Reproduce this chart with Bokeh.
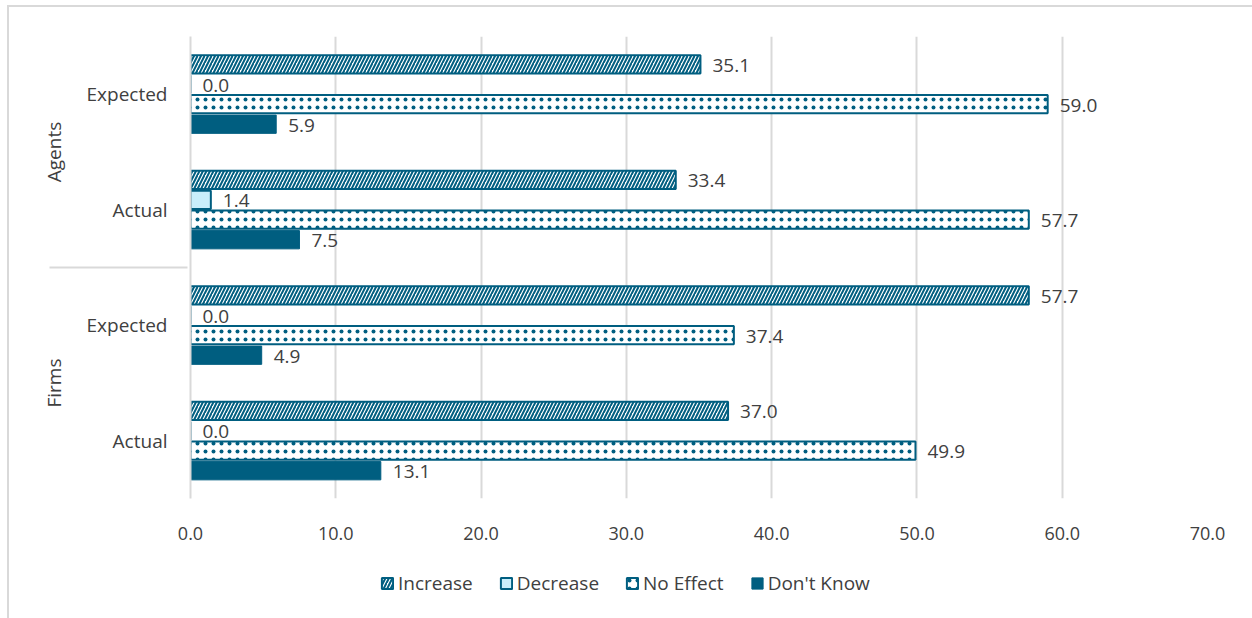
from bokeh.plotting import figure
from bokeh.layouts import column
from bokeh.models import (ColumnDataSource, FactorRange, Range1d, FixedTicker,
                          NumeralTickFormatter, Legend, LegendItem)
from bokeh.transform import dodge
from bokeh.core.properties import value
from bokeh.embed import file_html
from bokeh.resources import INLINE

# Respondent groups and the period each bar set refers to (top to bottom)
groups = ["Agents", "Agents", "Firms", "Firms"]
periods = ["Expected", "Actual", "Expected", "Actual"]

# Share of responses (%) per answer
increase = [35.1, 33.4, 57.7, 37.0]
decrease = [0.0, 1.4, 0.0, 0.0]
no_effect = [59.0, 57.7, 37.4, 49.9]
dont_know = [5.9, 7.5, 4.9, 13.1]

series_names = ["Increase", "Decrease", "No Effect", "Don't Know"]
x_ticks = [0, 10, 20, 30, 40, 50, 60, 70]

TEAL = "#005E80"
LIGHT = "#C9EEFB"
GRID = "#D9D9D9"
TEXT = "#404040"
FONT = "Open Sans"

factors = list(zip(groups, periods))

p = figure(
    width=1243, height=553,
    y_range=FactorRange(*reversed(factors), range_padding=0,
                        factor_padding=0, group_padding=0, subgroup_padding=0),
    x_range=Range1d(0, 70),
    output_backend="svg", toolbar_location=None,
    min_border_left=181, min_border_right=45,
    min_border_top=29, min_border_bottom=62,
)
p.outline_line_color = None
p.background_fill_color = "white"
p.border_fill_color = "white"

# bar geometry (in category units)
slot = 0.173
bar_h = 0.158

styles = [
    dict(fill_color="white", hatch_pattern="right_diagonal_line", hatch_color=TEAL,
         hatch_weight=2, hatch_scale=7, line_color=TEAL, line_width=2),
    dict(fill_color=LIGHT, line_color=TEAL, line_width=2),
    dict(fill_color="white", hatch_pattern="dot", hatch_color=TEAL,
         hatch_weight=1.5, hatch_scale=8, line_color=TEAL, line_width=2),
    dict(fill_color=TEAL, line_color=TEAL, line_width=1),
]

all_values = [increase, decrease, no_effect, dont_know]
for i, vals in enumerate(all_values):
    src = ColumnDataSource(dict(
        y=factors, x=vals, label=[f"{v:.1f}" for v in vals]))
    off = (1.5 - i) * slot
    p.hbar(y=dodge("y", off, range=p.y_range), left=0, right="x",
           height=bar_h, source=src, **styles[i])
    p.text(x="x", y=dodge("y", off, range=p.y_range), text="label", source=src,
           x_offset=12, y_offset=1, text_baseline="middle", text_align="left",
           text_font=value(FONT), text_font_size="19px", text_color=TEXT)

# x axis
p.xaxis.ticker = FixedTicker(ticks=x_ticks)
p.xaxis.formatter = NumeralTickFormatter(format="0.0")
p.xaxis.axis_line_color = None
p.xaxis.major_tick_line_color = None
p.xaxis.minor_tick_line_color = None
p.xaxis.major_label_standoff = 22
p.xaxis.major_label_text_font = FONT
p.xaxis.major_label_text_font_size = "18px"
p.xaxis.major_label_text_color = TEXT

p.xgrid.grid_line_color = GRID
p.xgrid.grid_line_width = 2
p.ygrid.grid_line_color = None

# y axis (two-level categories)
p.yaxis.axis_line_color = GRID
p.yaxis.axis_line_width = 2
p.yaxis.major_tick_line_color = None
p.yaxis.minor_tick_line_color = None
p.yaxis.major_label_standoff = 17
p.yaxis.major_label_text_font = FONT
p.yaxis.major_label_text_font_size = "19px"
p.yaxis.major_label_text_color = TEXT
p.yaxis.group_text_font = FONT
p.yaxis.group_text_font_size = "19px"
p.yaxis.group_text_font_style = "normal"
p.yaxis.group_text_color = TEXT
p.yaxis.separator_line_color = GRID
p.yaxis.separator_line_width = 2

# legend row underneath; its swatch renderers sit outside the visible range
lg = figure(width=1243, height=60, x_range=Range1d(0, 1), y_range=Range1d(0, 1),
            x_axis_type=None, y_axis_type=None, output_backend="svg",
            toolbar_location=None, min_border=0)
lg.outline_line_color = None
items = []
for name, st in zip(series_names, styles):
    r = lg.hbar(y=[-5], left=[0], right=[0.1], height=0.1, **st)
    items.append(LegendItem(label=name, renderers=[r]))
legend = Legend(items=items, orientation="horizontal", location=(190, 24),
                glyph_width=14, glyph_height=14, label_standoff=4, spacing=26,
                label_text_font=FONT, label_text_font_size="19px",
                label_text_color=TEXT, border_line_color=None,
                background_fill_alpha=0, margin=0, padding=0)
lg.add_layout(legend)

page = column(p, lg, spacing=0,
              styles={"margin-left": "7px", "margin-top": "5px",
                      "border-left": "2px solid #D9D9D9",
                      "border-top": "2px solid #D9D9D9"})

open("out.html", "w").write(file_html(page, INLINE))
